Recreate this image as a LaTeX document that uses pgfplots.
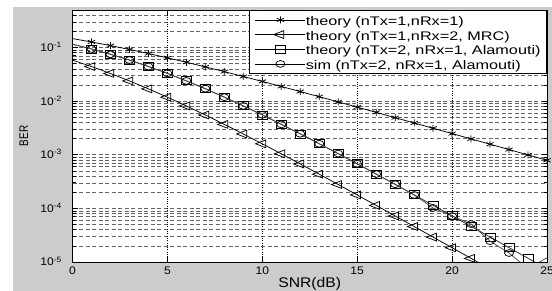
\documentclass[border=0pt]{standalone}
\usepackage{fontspec}
\setmainfont{Liberation Sans}
\newfontfamily\legfont{Liberation Sans}[FakeStretch=1.3]
\newfontfamily\tickfont{Liberation Sans}[FakeStretch=1.1]
\newfontfamily\labfont{Liberation Sans}[FakeStretch=1.12]
\usepackage{pgfplots}
\pgfplotsset{compat=1.18}
\usepackage{pgfplotstable}
\definecolor{figbg}{RGB}{204,204,204}
\definecolor{gridgray}{RGB}{100,100,100}

\pgfplotstableread{
x   t1        mrc          ala          sim
0   0.14645   0.05806      0.11510      0.11480
1   0.12675   0.04413      0.09387      0.09400
2   0.10849   0.03276      0.07481      0.07450
3   0.09192   0.02379      0.05822      0.05830
4   0.07714   0.01693      0.04424      0.04410
5   0.06418   0.01183      0.03286      0.03300
6   0.05300   0.008129     0.02387      0.02380
7   0.04347   0.005505     0.01699      0.01710
8   0.03546   0.003683     0.011877     0.011850
9   0.02878   0.002437     0.008161     0.008150
10  0.02327   0.001599     0.005528     0.005550
11  0.018753  0.0010418    0.003698     0.003680
12  0.015067  0.0006742    0.002448     0.002460
13  0.012079  0.0004342    0.001606     0.001600
14  0.009666  0.0002785    0.0010459    0.0010500
15  0.007723  0.0001780    0.0006770    0.0006800
16  0.006164  0.00011352   0.0004362    0.0004370
17  0.004915  0.00007223   0.0002797    0.0002820
18  0.003916  0.00004588   0.00017885   0.0001780
19  0.003118  0.00002911   0.00011404   0.0001020
20  0.002481  0.00001844   0.00007257   0.0000720
21  0.001974  0.000011675  0.00004610   0.0000510
22  0.001570  0.000007387  0.00002924   0.0000245
23  0.001248  0.00000467   0.00001853   0.0000147
24  0.000992  0.00000295   0.00001173   0.0000075
25  0.000789  0.00000187   0.00000742   0.0000120
}\datatable

\begin{document}
\begin{tikzpicture}[x=1pt,y=1pt]
\path[use as bounding box] (0,0) rectangle (552,291);
\fill[figbg] (12.7,0) rectangle (552,284);
\begin{axis}[
  at={(72.5pt,29pt)}, anchor=south west,
  scale only axis, width=474.5pt, height=252pt,
  ymode=log, xmin=0, xmax=25, ymin=1e-5, ymax=0.5,
  axis background/.style={fill=white},
  clip mode=individual,
  xtick={0,5,10,15,20,25},
  xticklabels={0,5,10,15,20,25},
  extra x ticks={5,10,15,20},
  extra x tick labels={},
  extra x tick style={grid=major, major grid style={black, line width=0.6pt, dash pattern=on 1pt off 1.3pt}},
  ytick={1e-5,1e-4,1e-3,1e-2,1e-1},
  yticklabels={10\textsuperscript{-5},10\textsuperscript{-4},10\textsuperscript{-3},10\textsuperscript{-2},10\textsuperscript{-1}},
  minor ytick={2e-5,3e-5,4e-5,5e-5,6e-5,7e-5,8e-5,9e-5,
               2e-4,3e-4,4e-4,5e-4,6e-4,7e-4,8e-4,9e-4,
               2e-3,3e-3,4e-3,5e-3,6e-3,7e-3,8e-3,9e-3,
               2e-2,3e-2,4e-2,5e-2,6e-2,7e-2,8e-2,9e-2,
               2e-1,3e-1,4e-1},
  ymajorgrids, yminorgrids,
  major grid style={gridgray, line width=0.55pt, dash pattern=on 4pt off 2.5pt},
  minor grid style={gridgray, line width=0.55pt, dash pattern=on 4pt off 2.5pt},
  tick style={black, line width=0.6pt},
  major tick length=5pt, minor tick length=3pt,
  axis line style={black, line width=0.8pt},
  xticklabel style={font=\tickfont\fontsize{11pt}{13pt}\selectfont, anchor=north, inner sep=0pt, yshift=-5pt},
  yticklabel style={font=\tickfont\fontsize{11pt}{13pt}\selectfont, anchor=base east, inner sep=0pt, xshift=-10.5pt, yshift=-4pt},
  xlabel={SNR(dB)},
  xlabel style={at={([yshift=-25.7pt]rel axis cs:0.5,0)}, anchor=base, font=\labfont\fontsize{14pt}{16pt}\selectfont},
  ylabel={\fontsize{12.5pt}{14pt}\selectfont\scalebox{0.8}[1]{BER}},
  ylabel style={at={([xshift=-44.3pt]rel axis cs:0,0.5)}, anchor=base},
  legend style={at={(rel axis cs:1,1)}, anchor=north east, draw=black, line width=0.8pt, fill=white,
    inner xsep=6pt, inner ysep=3pt, font=\legfont\fontsize{12.5pt}{14pt}\selectfont,
    row sep=1.67pt, nodes={inner sep=0pt, text height=12pt, text depth=1pt},
    /tikz/every even column/.append style={column sep=5pt}},
  legend cell align=left,
  legend image code/.code={\draw[#1, mark=none] (0pt,0pt) -- (50pt,0pt); \path[#1] plot coordinates {(25pt,0pt)};},
]
\addplot[forget plot, black, line width=0.75pt, mark=asterisk, mark indices={2,...,26}, mark size=3.5pt, mark options={xscale=1.2, solid}] table[x=x,y=t1]{\datatable};
\addplot[forget plot, black, line width=0.75pt, mark=triangle, mark indices={2,...,22}, mark size=4.5pt, mark options={xscale=1.5, rotate=90, solid}] table[x=x,y=mrc]{\datatable};
\addplot[forget plot, black!85, line width=0.75pt, mark=square, mark indices={2,...,25}, mark size=4pt, mark options={black, xscale=1.25, solid}] table[x=x,y=ala]{\datatable};
\addplot[forget plot, black!70, line width=0.75pt, mark=o, mark indices={2,...,24,26}, mark size=3.4pt, mark options={black, xscale=1.33, solid}] table[x=x,y=sim]{\datatable};

\addlegendimage{black, line width=0.75pt, mark=asterisk, mark size=3.5pt, mark options={xscale=1.2}}
\addlegendentry{theory (nTx=1,nRx=1)}
\addlegendimage{black, line width=0.75pt, mark=triangle, mark size=4.5pt, mark options={xscale=1.5, rotate=90}}
\addlegendentry{theory (nTx=1,nRx=2, MRC)}
\addlegendimage{black, line width=0.75pt, mark=square, mark size=4pt, mark options={xscale=1.25}}
\addlegendentry{theory (nTx=2, nRx=1, Alamouti)}
\addlegendimage{black, line width=0.75pt, mark=o, mark size=3.4pt, mark options={xscale=1.33}}
\addlegendentry{sim (nTx=2, nRx=1, Alamouti)}
\end{axis}
\end{tikzpicture}
\end{document}
